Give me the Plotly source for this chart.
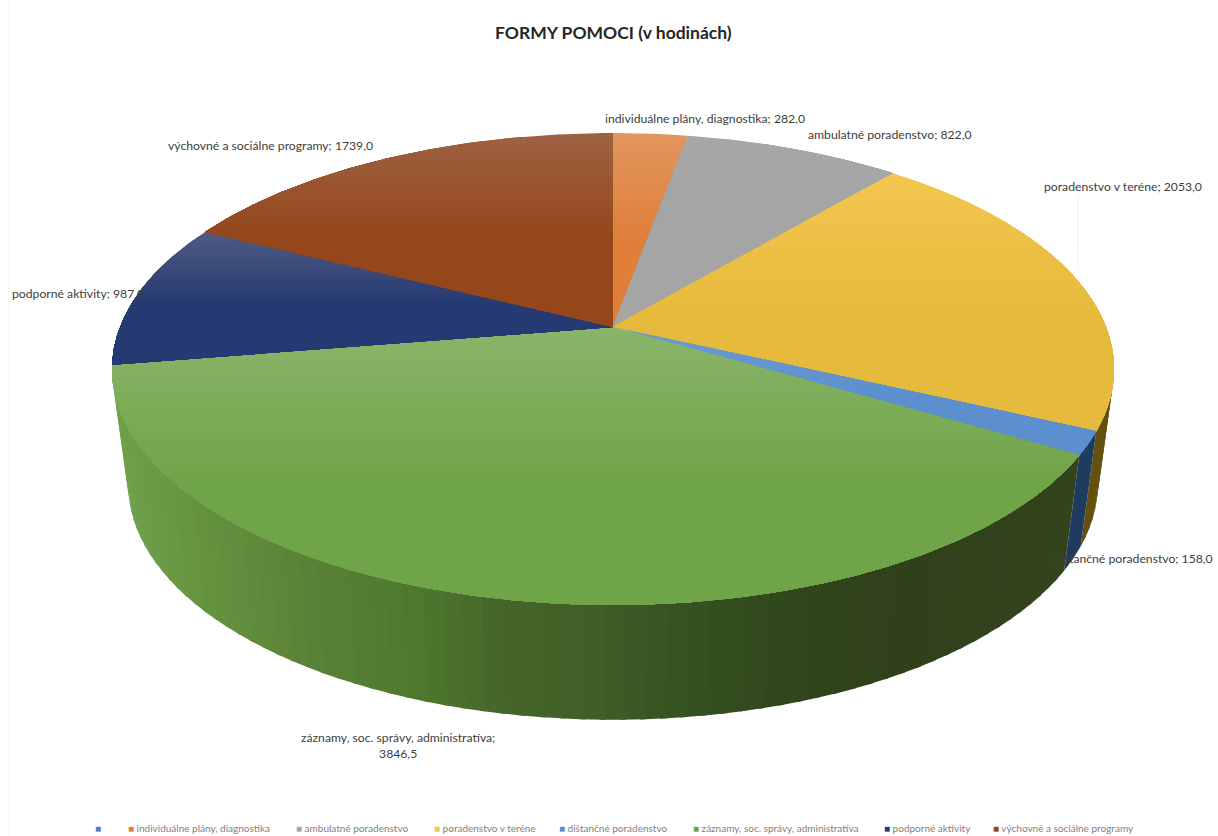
import numpy as np
import plotly.graph_objects as go

# ---- data ----
title = "FORMY POMOCI (v hodinách)"
categories = ["individuálne plány, diagnostika", "ambulatné poradenstvo", "poradenstvo v teréne",
              "dištančné poradenstvo", "záznamy, soc. správy, administratíva", "podporné aktivity",
              "výchovné a sociálne programy"]
values = [282.0, 822.0, 2053.0, 158.0, 3846.5, 987.0, 1739.0]

# ---- style ----
top_light = ["#e2965f", "#a6a6a6", "#f3c74f", "#6d9bd3", "#8ab56a", "#4e5b82", "#9e6242"]
top_base = ["#df7f3a", "#a5a5a5", "#e6ba3c", "#5b8fcd", "#70a449", "#253a72", "#95461a"]
wall_flat = {2: "#64500f", 3: "#1f3b60"}
green_wall_x = [115, 200, 300, 400, 500, 600, 700, 800, 900, 1075]
green_wall_rgb = [(112, 160, 75), (100, 146, 63), (90, 130, 54), (78, 122, 47), (69, 101, 40),
                  (62, 94, 38), (52, 80, 31), (48, 70, 28), (48, 64, 27), (51, 68, 28)]
legend_colors = ["#4f81bd", "#e07f3c", "#a5a5a5", "#f3c74f", "#5b8fcd", "#70a449", "#253a72", "#95461a"]
legend_x = [93, 126, 294, 432, 557, 691, 882, 991]
label_pos = [(705, 118), (890, 134), (1123, 186), (1133, 558), (398, 745), (78, 293), (270, 145)]
FONT = "Lato, Carlito, Arial, sans-serif"

# ---- perspective of the disc ----
C = 0.178
TOP = dict(cx=613.0, cy=327.0, b=493.0, a=228.5)
BOT = dict(cx=613.0, cy=443.0, b=477.0, a=227.5)


def project(deg, r, g):
    th = np.radians(deg)
    u, v = r * np.sin(th), r * np.cos(th)
    w = 1 + C * v
    return g["cx"] + g["b"] * u / w, g["cy"] - g["a"] * v / w


def clip(poly, y0, y1):
    def cut(pts, keep, cross):
        out = []
        for i in range(len(pts)):
            p, q = pts[i], pts[(i + 1) % len(pts)]
            if keep(p):
                out.append(p)
            if keep(p) != keep(q):
                t = (cross - p[1]) / (q[1] - p[1])
                out.append((p[0] + t * (q[0] - p[0]), cross))
        return out
    pts = cut(list(poly), lambda p: p[1] >= y0, y0)
    if pts:
        pts = cut(pts, lambda p: p[1] <= y1, y1)
    return pts


def mix(a, b, t):
    ca = [int(a[i:i + 2], 16) for i in (1, 3, 5)]
    cb = [int(b[i:i + 2], 16) for i in (1, 3, 5)]
    return "rgb(%d,%d,%d)" % tuple(round(x + (y - x) * t) for x, y in zip(ca, cb))


fig = go.Figure()


def fill(xs, ys, color, name):
    fig.add_trace(go.Scatter(x=list(xs) + [xs[0]], y=list(ys) + [ys[0]], mode="lines", fill="toself",
                             fillcolor=color, line=dict(color=color, width=0), hoverinfo="skip",
                             name=name, showlegend=False))


total = sum(values)
edges = np.concatenate([[0], np.cumsum(values)]) / total * 360

# side wall, front part only; neighbouring strips overlap so that no seams show
for i, cat in enumerate(categories):
    a0, a1 = edges[i], edges[i + 1]
    lo, hi = max(a0, 95.0), min(a1, 262.0)
    if hi <= lo:
        continue
    steps = np.linspace(lo, hi, max(2, int((hi - lo) / 2.0) + 1))
    for n, (s0, s1) in enumerate(zip(steps[:-1], steps[1:])):
        s_end = np.linspace(s1, s1 + 0.6, 2)[1] if s1 < hi else s1
        x0, y0 = project(s0, 1, TOP)
        x1, y1 = project(s_end, 1, TOP)
        x2, y2 = project(s_end, 1, BOT)
        x3, y3 = project(s0, 1, BOT)
        if i in wall_flat:
            col = wall_flat[i]
        else:
            xm = (x0 + x1) / 2
            rgb = [np.interp(xm, green_wall_x, [c[k] for c in green_wall_rgb]) for k in range(3)]
            col = "rgb(%d,%d,%d)" % tuple(round(c) for c in rgb)
        fill([x0, x1, x2, x3], [y0, y1, y2, y3], col, cat)

# top face, each slice built out of horizontal bands for the soft shading
for i, cat in enumerate(categories):
    a0, a1 = edges[i], edges[i + 1]
    arc = np.linspace(a0, a1, max(3, int((a1 - a0) * 2)))
    ax, ay = project(arc, 1, TOP)
    poly = [(TOP["cx"], TOP["cy"])] + list(zip(ax, ay))
    ymin = min(p[1] for p in poly)
    ymax = max(p[1] for p in poly)
    grad_end = ymin + 0.55 * (ymax - ymin)
    bands = list(np.arange(ymin, grad_end, 4.0)) + [grad_end, ymax]
    # painted from the lowest band upward would leave gaps; each band runs on to the slice's end
    for y0 in bands[:-1]:
        pts = clip(poly, y0, ymax)
        if len(pts) < 3:
            continue
        t = min(1.0, (y0 + 2 - ymin) / (grad_end - ymin))
        fill([p[0] for p in pts], [p[1] for p in pts], mix(top_light[i], top_base[i], t), cat)

annotations = [dict(x=613, y=32, text="<b>%s</b>" % title, showarrow=False, xanchor="center", yanchor="middle",
                    font=dict(family=FONT, size=17.5, color="#262626"))]
for i, (cat, val) in enumerate(zip(categories, values)):
    num = f"{val:.1f}".replace(".", ",")
    sep = ";<br>" if i == 4 else "; "
    annotations.append(dict(x=label_pos[i][0], y=label_pos[i][1], text=cat + sep + num, showarrow=False,
                            xanchor="center", yanchor="middle",
                            font=dict(family=FONT, size=12.2, color="#404040")))
for cat, col, lx in zip([""] + categories, legend_colors, legend_x):
    annotations.append(dict(x=lx, y=828, text=f'<span style="color:{col}">■</span> {cat}', showarrow=False,
                            xanchor="left", yanchor="middle",
                            font=dict(family=FONT, size=10, color="#7f7f7f")))

fig.update_layout(
    width=1218, height=836, autosize=False, margin=dict(l=0, r=0, t=0, b=0),
    paper_bgcolor="white", plot_bgcolor="white", showlegend=False,
    xaxis=dict(range=[0, 1218], visible=False, fixedrange=True),
    yaxis=dict(range=[836, 0], visible=False, fixedrange=True),
    annotations=annotations,
    shapes=[
        dict(type="line", x0=1078, x1=1078, y0=195, y1=270, line=dict(color="#eef0f2", width=1), layer="below"),
        dict(type="line", x0=9, x1=9, y0=0, y1=836, line=dict(color="#f6f6f6", width=1), layer="below"),
    ],
)

fig.write_html("out.html", post_script="document.body.style.margin='0';", config={"displayModeBar": False})
